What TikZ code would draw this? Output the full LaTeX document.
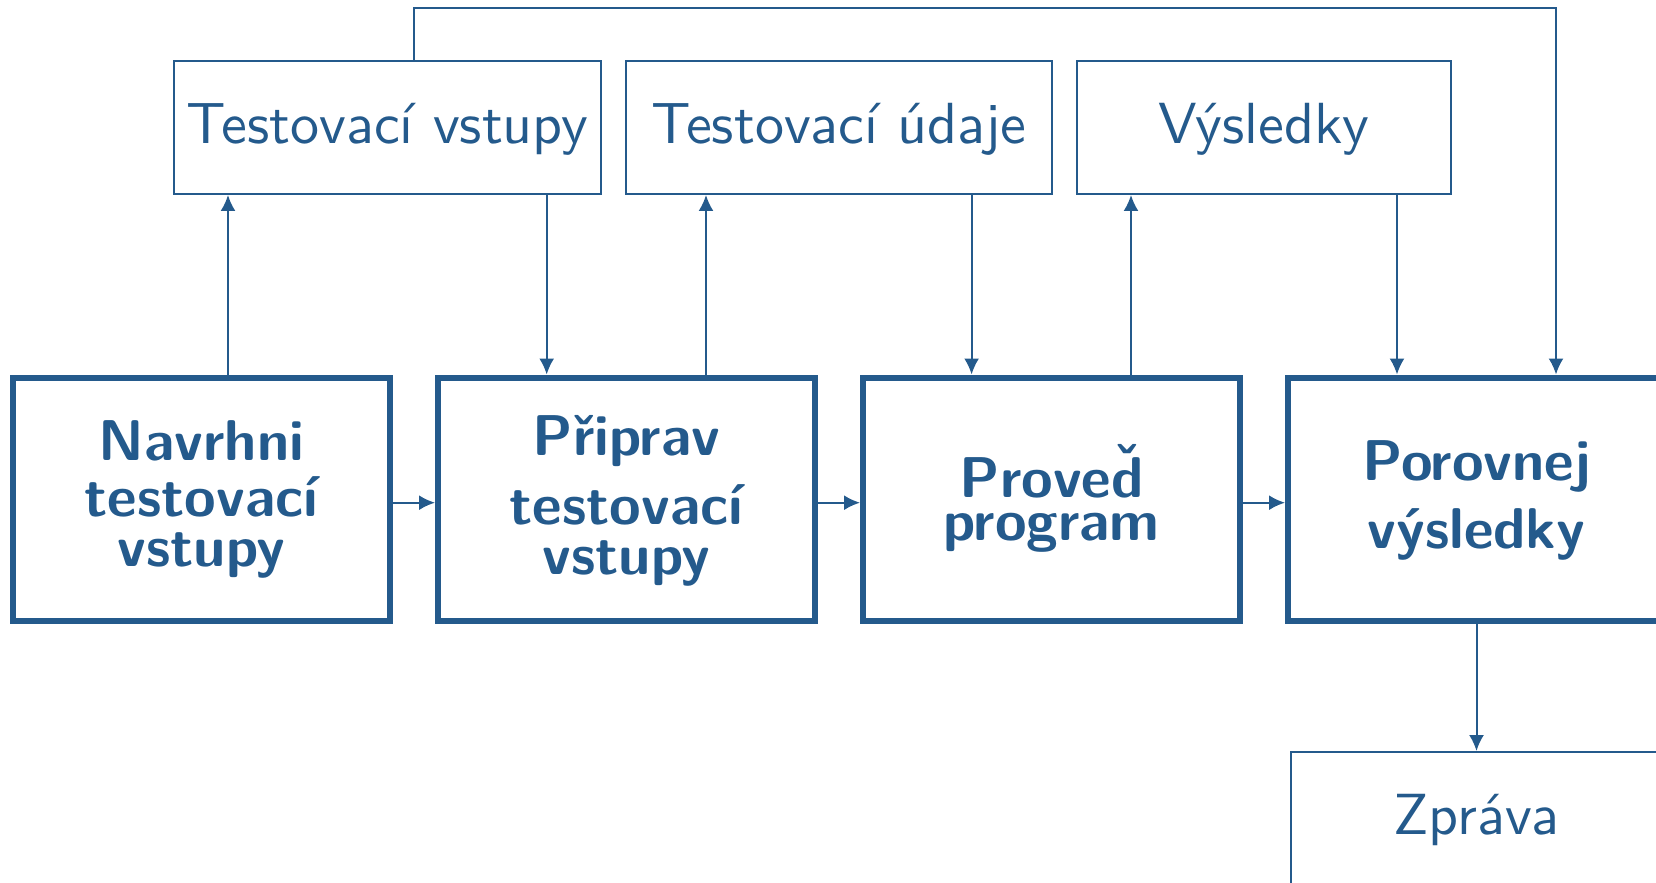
\documentclass[tikz,border=0pt]{standalone}
\usepackage{fontspec}
\usetikzlibrary{arrows.meta}
\newfontfamily\flowsans{lmsans10-regular.otf}
\newfontfamily\flowsansbold{lmsans10-bold.otf}
\definecolor{flowblue}{HTML}{245A8C}
% d with a caron set above it
\newcommand\dcaron{{\accent"02C7 d}}
\tikzset{
  x=0.5pt, y=-0.5pt,
  stage/.style={draw=flowblue, line width=3pt, minimum width=188.5pt,
    minimum height=121.75pt, inner sep=0pt, outer sep=1.5pt},
  data/.style={draw=flowblue, line width=1pt, minimum height=66.5pt,
    inner sep=0pt, outer sep=0.5pt, text=flowblue,
    font=\fontsize{29}{34}\flowsans\selectfont,
    text height=20.2pt, text depth=4.2pt},
  stagetext/.style={anchor=base, inner sep=0pt, text=flowblue,
    font=\fontsize{28.75}{34}\flowsansbold\selectfont},
  link/.style={draw=flowblue, line width=1pt,
    -{Latex[length=8pt,width=7.5pt]}},
}
\begin{document}
\begin{tikzpicture}
\useasboundingbox (0,0) rectangle (1656,883);

% main process steps
\node[stage] (b1) at (201.5,499.25) {};
\node[stage] (b2) at (626.5,499.25) {};
\node[stage] (b3) at (1051.5,499.25) {};
\node[stage] (b4) at (1476.5,499.25) {};

\node[stagetext] (t1a) at (201.5,460)   {Navrhni};
\node[stagetext] (t1b) at (201.5,516.7) {testovací};
\node[stagetext] (t1c) at (201.5,566.7) {vstupy};
\node[stagetext] (t2a) at (626.5,455)   {Připrav};
\node[stagetext] (t2b) at (626.5,524)   {testovací};
\node[stagetext] (t2c) at (626.5,574)   {vstupy};
\node[stagetext] (t3a) at (1051.5,497.7) {Prove\dcaron};
\node[stagetext] (t3b) at (1051.5,540.7) {program};
\node[stagetext] (t4a) at (1476.5,480)  {Porovnej};
\node[stagetext] (t4b) at (1476.5,548.3) {výsledky};

% data produced and consumed
\node[data, minimum width=213.5pt] (tv) at (387.5,127.5) {Testovací vstupy};
\node[data, minimum width=213pt]   (tu) at (839,127.5)   {Testovací údaje};
\node[data, minimum width=187pt]   (vy) at (1264,127.5)  {Výsledky};
\node[data, minimum width=186pt]   (zp) at (1476.5,818.5) {Zpráva};

% connector columns and rows
\coordinate (row) at (0,502.7);
\coordinate (c1) at (228,0);
\coordinate (c2) at (546.7,0);
\coordinate (c3) at (706,0);
\coordinate (c4) at (971.6,0);
\coordinate (c5) at (1131,0);
\coordinate (c6) at (1397,0);
\coordinate (fb) at (414,0);
\coordinate (fbtop) at (1556,8.3);

% flow between steps
\draw[link] (b1.east |- row) -- (b2.west |- row);
\draw[link] (b2.east |- row) -- (b3.west |- row);
\draw[link] (b3.east |- row) -- (b4.west |- row);

% data links
\draw[link] (b1.north -| c1) -- (tv.south -| c1);
\draw[link] (tv.south -| c2) -- (b2.north -| c2);
\draw[link] (b2.north -| c3) -- (tu.south -| c3);
\draw[link] (tu.south -| c4) -- (b3.north -| c4);
\draw[link] (b3.north -| c5) -- (vy.south -| c5);
\draw[link] (vy.south -| c6) -- (b4.north -| c6);
\draw[link] (tv.north -| fb) |- (fbtop) -- (b4.north -| fbtop);
\draw[link] (b4) -- (zp);
\end{tikzpicture}
\end{document}
